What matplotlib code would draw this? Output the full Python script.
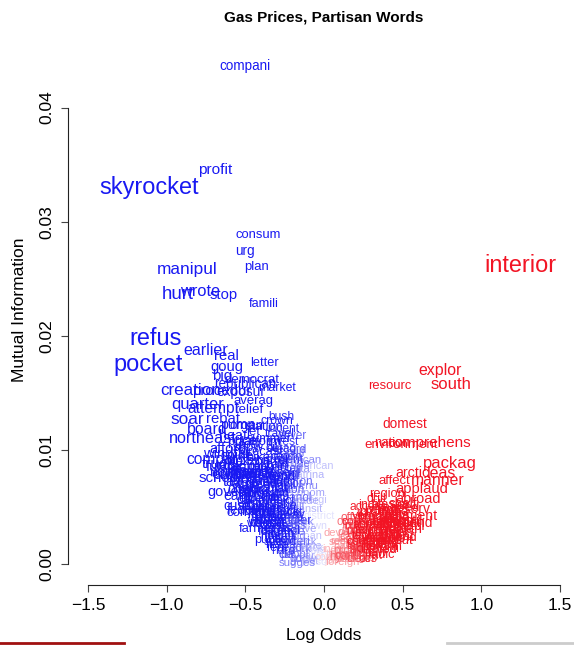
import numpy as np
import matplotlib
matplotlib.use("Agg")
import matplotlib.pyplot as plt
from matplotlib.lines import Line2D

# words that lean Democratic (negative log odds)
dem_words = [
    "compani", "profit", "skyrocket", "consum", "urg", "plan", "manipul",
    "hurt", "wrote", "stop", "famili", "refus", "pocket", "earlier", "real",
    "letter", "goug", "big", "democrat", "republican", "market", "creation",
    "procedur", "exposur", "quarter", "averag", "attempt", "relief", "soar",
    "rebat", "bush", "crown", "board", "organ", "jet", "incent", "travel",
    "northeast", "invest", "platform", "afford", "forecast", "compar",
    "truck", "student", "american", "gallon", "school", "govern", "econom",
    "grade", "custom", "commut", "district", "wage", "worker", "spend",
    "sugges",
    "pump", "station", "driver", "summer", "price", "cost", "oil", "record",
    "heat", "spike", "hike", "barrel", "crude", "tank", "fuel", "diesel",
    "trader", "retail", "windfal", "exxon", "ceo", "tax", "airlin", "bonus",
    "execut", "mobil", "chevron", "opec", "saudi", "speculat", "futur",
    "billion", "earn", "revenu", "holiday", "suspend", "senior", "children",
    "hybrid", "mile", "vehicl", "car", "trip", "vacat", "wallet", "paycheck",
    "budget", "bill", "feder", "ripoff", "fair", "transit", "energi",
    "ethanol", "middl", "class", "rais", "pay", "week", "month", "folk",
    "daili", "rise", "drive", "loan", "farmer", "town", "help", "need",
    "hard", "work", "home", "time", "peopl", "year", "day", "public",
    "just", "also", "know",
    "gasolin", "pain", "squeez", "struggl", "oilman", "greed", "corpor",
    "investig", "ftc", "collus", "antitrust", "probe", "cheney", "lobbi",
    "giveaway", "subsid", "break", "fill", "commuter", "bus", "rail", "mass",
    "carpool", "ride", "kid", "food", "groceri", "rent", "check", "cut",
    "back", "go", "way", "hit", "elder", "poor", "rural", "northern",
    "winter", "propan", "furnac", "cold", "snow", "outag", "gulf", "storm",
    "hurrican", "katrina", "rita",
]
dem_lo = [
    -0.50, -0.69, -1.11, -0.42, -0.50, -0.43, -0.87,
    -0.93, -0.79, -0.64, -0.38, -1.07, -1.12, -0.75, -0.62,
    -0.38, -0.62, -0.65, -0.46, -0.50, -0.30, -0.85,
    -0.65, -0.53, -0.80, -0.45, -0.70, -0.48, -0.87,
    -0.64, -0.27, -0.30, -0.74, -0.49, -0.45, -0.26, -0.28,
    -0.77, -0.26, -0.42, -0.61, -0.40, -0.71,
    -0.67, -0.25, -0.08, -0.47, -0.66, -0.60, -0.12,
    -0.12, -0.50, -0.47, -0.03, -0.40, -0.37, -0.28,
    -0.17,
    -0.55, -0.38, -0.20, -0.35, -0.52, -0.47, -0.33, -0.22,
    -0.58, -0.55, -0.42, -0.33, -0.18, -0.60, -0.38, -0.30,
    -0.50, -0.22, -0.62, -0.45, -0.28, -0.58, -0.50, -0.42,
    -0.35, -0.27, -0.20, -0.52, -0.45, -0.38, -0.30,
    -0.22, -0.55, -0.15, -0.40, -0.33, -0.25, -0.48,
    -0.42, -0.35, -0.28, -0.50, -0.22, -0.45, -0.38, -0.32,
    -0.25, -0.17, -0.52, -0.40, -0.30, -0.10, -0.08,
    -0.20, -0.38, -0.32, -0.27, -0.22, -0.15, -0.30, -0.36,
    -0.24, -0.18, -0.12, -0.08, -0.42, -0.05, -0.30, -0.22,
    -0.26, -0.16, -0.10, -0.05, -0.19, -0.12, -0.02, -0.34,
    -0.09, -0.04, -0.13,
    -0.36, -0.30, -0.44, -0.26, -0.33, -0.40, -0.24,
    -0.36, -0.30, -0.44, -0.38, -0.27, -0.33, -0.44,
    -0.28, -0.35, -0.22, -0.40, -0.25, -0.18, -0.30, -0.20,
    -0.28, -0.34, -0.16, -0.26, -0.20, -0.30, -0.14, -0.24,
    -0.08, -0.18, -0.03, -0.26, -0.45, -0.47, -0.52, -0.56,
    -0.53, -0.57, -0.62, -0.63, -0.48, -0.27, -0.18, -0.23,
    -0.15, -0.10, -0.14,
]
dem_mi = [
    0.0436, 0.0345, 0.0330, 0.0288, 0.0274, 0.0260, 0.0258,
    0.0236, 0.0239, 0.0236, 0.0228, 0.0198, 0.0175, 0.0187, 0.0182,
    0.0176, 0.0173, 0.0165, 0.0161, 0.0158, 0.0154, 0.0152,
    0.0152, 0.0151, 0.0140, 0.0143, 0.0136, 0.0135, 0.0127,
    0.0127, 0.0129, 0.0125, 0.0118, 0.0121, 0.0116, 0.0118, 0.0114,
    0.0110, 0.0107, 0.0107, 0.0101, 0.0098, 0.0092,
    0.0088, 0.0091, 0.0086, 0.0084, 0.0075, 0.0063, 0.0062,
    0.0055, 0.0051, 0.0045, 0.0042, 0.0035, 0.0038, 0.0019,
    0.0001,
    0.0122, 0.0120, 0.0112, 0.0110, 0.0108, 0.0104, 0.0102, 0.0100,
    0.0112, 0.0095, 0.0093, 0.0090, 0.0088, 0.0086, 0.0082, 0.0080,
    0.0080, 0.0083, 0.0096, 0.0089, 0.0094, 0.0072, 0.0070, 0.0074,
    0.0071, 0.0068, 0.0072, 0.0066, 0.0064, 0.0066, 0.0062,
    0.0065, 0.0060, 0.0068, 0.0078, 0.0076, 0.0077, 0.0077,
    0.0058, 0.0056, 0.0055, 0.0056, 0.0052, 0.0050, 0.0048, 0.0046,
    0.0045, 0.0050, 0.0047, 0.0043, 0.0041, 0.0048, 0.0056,
    0.0058, 0.0036, 0.0033, 0.0031, 0.0035, 0.0037, 0.0026, 0.0028,
    0.0024, 0.0028, 0.0031, 0.0025, 0.0031, 0.0033, 0.0017, 0.0014,
    0.0011, 0.0013, 0.0016, 0.0012, 0.0008, 0.0007, 0.0009, 0.0021,
    0.0003, 0.0002, 0.0004,
    0.0085, 0.0087, 0.0081, 0.0079, 0.0073, 0.0069, 0.0070,
    0.0061, 0.0058, 0.0062, 0.0053, 0.0051, 0.0049, 0.0046,
    0.0043, 0.0040, 0.0042, 0.0038, 0.0038, 0.0040, 0.0035, 0.0033,
    0.0029, 0.0025, 0.0025, 0.0021, 0.0019, 0.0014, 0.0019, 0.0008,
    0.0014, 0.0004, 0.0005, 0.0031, 0.0057, 0.0065, 0.0073, 0.0081,
    0.0090, 0.0078, 0.0085, 0.0079, 0.0102, 0.0101, 0.0097, 0.0094,
    0.0091, 0.0078, 0.0083,
]

# words that lean Republican (positive log odds)
rep_words = [
    "interior", "explor", "south", "resourc", "domest", "nation",
    "comprehens", "environment", "packag", "arctic", "leas", "affect",
    "manner", "applaud", "region", "abroad", "seabed", "prompt", "payment",
    "import", "dividend", "span",
    "drill", "shelf", "access", "alaska", "reserv", "permit", "offshor",
    "produc", "shale", "sand", "nuclear", "coal", "oppos", "refineri", "lock",
    "develop", "capac", "suppli", "technolog", "independ", "restrict", "acr",
    "sourc", "regul", "law", "deep", "protect", "increas", "product",
    "altern", "new", "continent", "radic", "litig", "foreign", "ocs", "job",
    "red", "tape", "output", "reform",
    "land", "open", "acreag", "wilder", "refug", "caribou", "pipelin",
    "natur", "gas", "rig", "tanker", "port", "terminal", "lng", "capit",
    "free", "competit", "sector", "privat", "plant", "build", "construct",
    "expans", "wind", "solar", "hydrogen", "clean", "conserv", "effici",
    "diversifi", "secur", "threat", "unstabl", "hostil", "venezuela", "iran",
    "china", "india",
]
rep_lo = [
    1.25, 0.74, 0.81, 0.42, 0.51, 0.43,
    0.67, 0.49, 0.80, 0.56, 0.75, 0.45,
    0.72, 0.62, 0.40, 0.60, 0.47, 0.35, 0.55,
    0.29, 0.53, 0.53,
    0.33, 0.50, 0.28, 0.42, 0.55, 0.37, 0.22,
    0.33, 0.45, 0.40, 0.25, 0.48, 0.18, 0.31, 0.42,
    0.12, 0.20, 0.28, 0.35, 0.42, 0.15, 0.48,
    0.23, 0.33, 0.40, 0.17, 0.26, 0.10, 0.18,
    0.26, 0.33, 0.22, 0.36, 0.12, 0.12, 0.28, 0.05,
    0.40, 0.08, 0.45, 0.38,
    0.15, 0.22, 0.30, 0.36, 0.40, 0.44, 0.47,
    0.14, 0.08, 0.20, 0.25, 0.31, 0.36, 0.43, 0.17,
    0.24, 0.29, 0.13, 0.38, 0.44, 0.20, 0.27,
    0.32, 0.10, 0.15, 0.19, 0.23, 0.06, 0.11,
    0.34, 0.39, 0.47, 0.50, 0.52, 0.36, 0.27,
    0.44, 0.30,
]
rep_mi = [
    0.0262, 0.0170, 0.0157, 0.0156, 0.0123, 0.0106,
    0.0106, 0.0104, 0.0088, 0.0080, 0.0079, 0.0073,
    0.0073, 0.0066, 0.0061, 0.0057, 0.0049, 0.0046, 0.0042,
    0.0035, 0.0036, 0.0031,
    0.0057, 0.0053, 0.0050, 0.0052, 0.0048, 0.0047, 0.0040,
    0.0041, 0.0040, 0.0034, 0.0033, 0.0031, 0.0037, 0.0030, 0.0044,
    0.0027, 0.0024, 0.0022, 0.0025, 0.0023, 0.0020, 0.0027,
    0.0018, 0.0019, 0.0017, 0.0028, 0.0029, 0.0013, 0.0011,
    0.0012, 0.0010, 0.0007, 0.0008, 0.0006, 0.0002, 0.0004, 0.0003,
    0.0012, 0.0009, 0.0020, 0.0015,
    0.0022, 0.0029, 0.0034, 0.0036, 0.0039, 0.0037, 0.0035,
    0.0016, 0.0005, 0.0013, 0.0016, 0.0015, 0.0020, 0.0026, 0.0009,
    0.0010, 0.0019, 0.0019, 0.0029, 0.0030, 0.0033, 0.0037,
    0.0027, 0.0008, 0.0004, 0.0006, 0.0004, 0.0006, 0.0011,
    0.0013, 0.0022, 0.0024, 0.0033, 0.0038, 0.0042, 0.0044,
    0.0046, 0.0052,
]

x_ticks = [-1.5, -1.0, -0.5, 0.0, 0.5, 1.0, 1.5]
x_tick_labels = ["\u22121.5", "\u22121.0", "\u22120.5", "0.0", "0.5", "1.0", "1.5"]
y_ticks = [0.00, 0.01, 0.02, 0.03, 0.04]
y_tick_labels = ["0.00", "0.01", "0.02", "0.03", "0.04"]

plt.rcParams['font.family'] = ['Liberation Sans', 'DejaVu Sans']

BLUE = (0.10, 0.10, 0.95)
RED = (0.95, 0.08, 0.14)


def word_color(lo):
    # fade towards white as the log odds approach zero
    t = min(max(abs(lo) / 0.3, 0.12), 1.0)
    base = BLUE if lo < 0 else RED
    return tuple(1 - t * (1 - c) for c in base)


def word_size(lo):
    px = np.interp(abs(lo), [0, 0.3, 0.5, 0.9, 1.05, 1.3],
                   [10.5, 12.2, 13.5, 17.5, 23.5, 23.5])
    return px * 0.72


fig = plt.figure(figsize=(5.74, 6.45), dpi=100)
ax = fig.add_axes([76 / 574, 70 / 645, 496 / 574, 530 / 645])
ax.set_xlim(-1.576, 1.576)
ax.set_ylim(-0.00096, 0.04548)

# lighter words first so the strong ones sit on top
words = dem_words + rep_words
los = dem_lo + rep_lo
mis = dem_mi + rep_mi
order = np.argsort([abs(v) for v in los])
for i in order:
    ax.text(los[i], mis[i], words[i], ha="center", va="center",
            fontsize=word_size(los[i]), color=word_color(los[i]))

for side in ["top", "right"]:
    ax.spines[side].set_visible(False)
ax.spines["left"].set_position(("outward", 5.8))
ax.spines["bottom"].set_position(("outward", 7.2))
ax.spines["left"].set_bounds(0, 0.04)
ax.spines["bottom"].set_bounds(-1.5, 1.5)
for side in ["left", "bottom"]:
    ax.spines[side].set_linewidth(0.8)
    ax.spines[side].set_color("#222222")

ax.set_xticks(x_ticks)
ax.set_xticklabels(x_tick_labels)
ax.set_yticks(y_ticks)
ax.set_yticklabels(y_tick_labels, rotation=90, va="center")
ax.tick_params(axis="both", length=5, width=0.8, color="#444444",
               labelsize=12.5)
ax.tick_params(axis="x", pad=4)
ax.tick_params(axis="y", pad=5)

ax.set_xlabel("Log Odds", fontsize=12.5, labelpad=11)
ax.set_ylabel("Mutual Information", fontsize=12.5, labelpad=9)
fig.text(324 / 574, 1 - 17 / 645, "Gas Prices, Partisan Words",
         ha="center", va="center", fontsize=11, fontweight="bold")

# page-edge strokes visible in the screenshot
fig.add_artist(Line2D([0, 124 / 574], [2 / 645, 2 / 645],
                      color="#a01010", lw=2, transform=fig.transFigure))
fig.add_artist(Line2D([447 / 574, 1], [2 / 645, 2 / 645],
                      color="#cccccc", lw=2, transform=fig.transFigure))

fig.savefig("out.png", dpi=100)
